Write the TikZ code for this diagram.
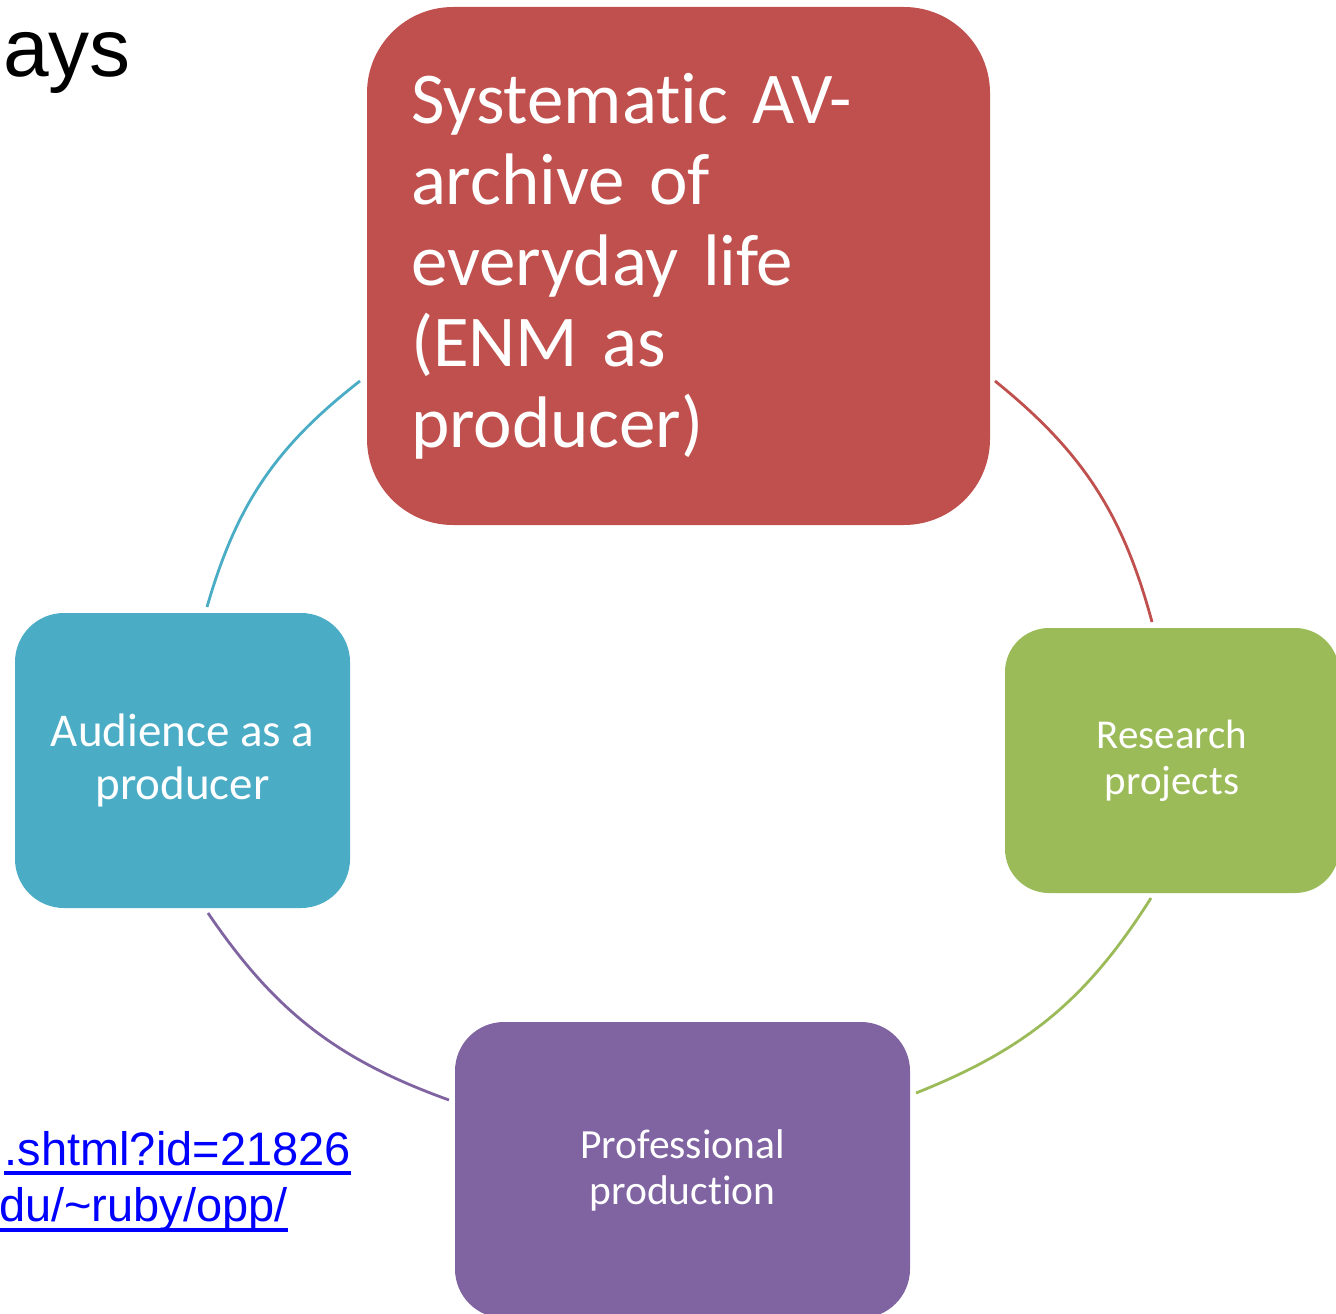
\documentclass[tikz,border=0pt]{standalone}
\usepackage{fontspec}
\setmainfont{Carlito}[Ligatures=NoCommon]
\newfontfamily\arialfont{Liberation Sans}
\usepackage{xcolor}
\usetikzlibrary{positioning}
\definecolor{archivered}{HTML}{C0504D}
\definecolor{researchgreen}{HTML}{9BBB59}
\definecolor{prodpurple}{HTML}{8064A2}
\definecolor{audienceblue}{HTML}{4BACC6}
\definecolor{linkblue}{HTML}{0000FF}
\tikzset{cycle node/.style={rectangle,inner sep=0pt,text=white,align=center},
         cycle arc/.style={line width=2.8pt,bend left=18},
         link text/.style={inner sep=0pt,text=linkblue,font=\arialfont\fontsize{47}{54}\selectfont},
            }

\begin{document}
\begin{tikzpicture}[x=1pt,y=-1pt]

    \path[use as bounding box] (0,0) rectangle (1336,1314);
    \clip (0,0) rectangle (1336,1314);

    \node[anchor=base east,inner sep=0pt,font=\arialfont\fontsize{82}{94}\selectfont] (title) at (131,77) {ays};

    \node[cycle node,fill=archivered,rounded corners=86pt,minimum width=623pt,minimum height=518pt,
          inner xsep=44pt,text width=535pt,align=left,font=\fontsize{73}{81}\selectfont] (archive) at (678.5,266)
          {Systematic AV-\\archive of\\everyday life\\(ENM as\\producer)};
    \node[cycle node,fill=researchgreen,rounded corners=44pt,minimum width=334pt,minimum height=265pt,
          font=\fontsize{41}{46}\selectfont] (research) at (1172,760.5) {Research\\projects};
    \node[cycle node,fill=prodpurple,rounded corners=49pt,minimum width=455pt,minimum height=296pt,
          font=\fontsize{41.5}{46}\selectfont] (prof) at (682.5,1170) {Professional\\production};
    \node[cycle node,fill=audienceblue,rounded corners=49pt,minimum width=335pt,minimum height=295pt,
          font=\fontsize{47}{53}\selectfont] (audience) at (182.5,760.5) {Audience as a\\producer};

    \node[link text,anchor=base east] (url1) at (351,1165) {.shtml?id=21826};
    \node[link text,anchor=base east] (url2) at (288,1221) {du/\char`~ruby/opp/};
    \draw[linkblue,line width=3.5pt] ([yshift=-8pt]url1.base west) -- ([yshift=-8pt]url1.base east);
    \draw[linkblue,line width=3.5pt] ([yshift=-9pt]url2.base west) -- ([yshift=-9pt]url2.base east);

    % arc ends
    \coordinate (a1) at (995,381);
    \coordinate (r1) at (1152,622);
    \coordinate (r2) at (1151,898);
    \coordinate (p1) at (916,1093);
    \coordinate (p2) at (449,1100);
    \coordinate (b1) at (208,913);
    \coordinate (b2) at (207,607);
    \coordinate (a2) at (360,381);

    \path[cycle arc]
    (a1) edge[draw=archivered] (r1)
    (r2) edge[draw=researchgreen] (p1)
    (p2) edge[draw=prodpurple] (b1)
    (b2) edge[draw=audienceblue] (a2);

\end{tikzpicture}
\end{document}
